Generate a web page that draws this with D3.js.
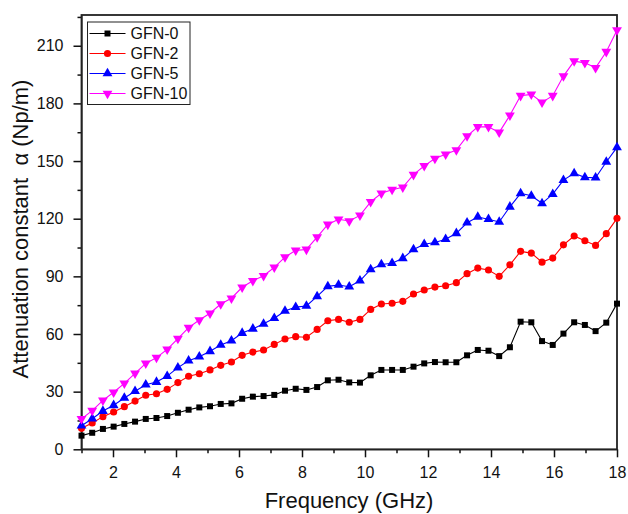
<!DOCTYPE html>
<html>
<head>
<meta charset="utf-8">
<script src="https://cdn.jsdelivr.net/npm/d3@7"></script>
<style>
  body { margin: 0; background: #fff; }
  svg { font-family: Arial, "Liberation Sans", sans-serif; }
</style>
</head>
<body>
<svg id="chart"></svg>
<script>
// frequency points, 1 to 18 GHz (51 samples)
const freq = d3.range(51).map(i => 1 + i * 17 / 50);

const gfn0 = [7.1, 8.6, 10.6, 11.8, 13.2, 14.4, 15.8, 16.3, 17.3, 19.0,
  20.6, 21.8, 22.4, 23.6, 23.9, 26.3, 27.4, 27.7, 28.3, 30.5,
  31.5, 30.9, 32.4, 35.9, 36.2, 34.8, 34.7, 38.5, 41.3, 41.3,
  41.3, 43.0, 44.7, 45.4, 45.3, 45.3, 48.9, 51.7, 51.3, 48.5,
  53.1, 66.4, 66.1, 56.3, 54.3, 60.2, 66.1, 64.7, 61.5, 65.9, 75.8];

const gfn2 = [10.9, 13.7, 17.0, 19.4, 22.2, 25.1, 28.1, 28.9, 31.2, 34.7,
  38.0, 39.3, 41.3, 43.7, 45.4, 48.9, 50.6, 51.7, 54.6, 57.4,
  58.6, 58.3, 62.4, 66.9, 67.6, 66.1, 67.6, 72.8, 75.6, 76.0,
  77.0, 80.8, 82.9, 84.4, 85.1, 86.7, 91.4, 94.3, 93.3, 90.0,
  96.0, 103.0, 102.1, 97.4, 99.5, 106.4, 111.0, 108.5, 106.1, 112.2, 120.2];

const gfn5 = [12.3, 15.9, 19.9, 22.9, 26.7, 30.2, 33.6, 35.0, 38.1, 42.5,
  46.1, 48.2, 51.0, 54.3, 56.5, 60.5, 62.7, 65.3, 68.2, 72.0,
  74.0, 74.6, 79.6, 84.8, 85.5, 84.6, 87.7, 93.6, 96.2, 96.8,
  99.4, 104.0, 106.7, 107.6, 109.3, 112.4, 117.9, 120.9, 119.7, 118.3,
  126.2, 133.2, 131.9, 128.0, 132.8, 140.1, 143.6, 141.5, 141.3, 149.5, 157.1];

const gfn10 = [15.8, 20.1, 25.5, 29.7, 34.3, 39.5, 44.7, 47.7, 52.0, 57.6,
  63.3, 67.3, 70.8, 75.6, 78.6, 84.3, 87.7, 90.3, 94.7, 100.0,
  103.5, 104.0, 110.4, 117.0, 119.7, 118.8, 121.7, 128.8, 133.2, 135.1,
  136.3, 142.9, 147.5, 151.3, 153.5, 155.7, 163.0, 167.8, 167.8, 164.9,
  173.8, 184.0, 184.7, 180.5, 184.0, 194.2, 202.0, 201.1, 198.5, 206.9, 218.1];

const seriesNames = ['GFN-0', 'GFN-2', 'GFN-5', 'GFN-10'];
const seriesColors = ['#000000', '#ff0000', '#0000ff', '#ff00ff'];
const xTicks = [2, 4, 6, 8, 10, 12, 14, 16, 18];
const yTicks = [0, 30, 60, 90, 120, 150, 180, 210];

const width = 628, height = 514;
const margin = { top: 15, right: 11, bottom: 65, left: 81.5 };
const innerW = width - margin.left - margin.right;
const innerH = 449.3 - margin.top;

const svg = d3.select('#chart')
    .attr('width', width)
    .attr('height', height);

const chart = svg.append('g')
    .attr('transform', `translate(${margin.left}, ${margin.top})`);

const xScale = d3.scaleLinear().domain([1, 18]).range([0, innerW]);
const yScale = d3.scaleLinear().domain([0, 226]).range([innerH, 0]);

// minor ticks first (no labels)
chart.append('g')
    .attr('transform', `translate(0, ${innerH})`)
    .call(d3.axisBottom(xScale).tickValues(d3.range(1, 19, 2)).tickSize(4).tickFormat(''))
    .call(g => g.select('.domain').remove());

chart.append('g')
    .call(d3.axisLeft(yScale).tickValues(d3.range(15, 226, 30)).tickSize(4).tickFormat(''))
    .call(g => g.select('.domain').remove());

const xAxisGroup = chart.append('g')
    .attr('transform', `translate(0, ${innerH})`)
    .call(d3.axisBottom(xScale).tickValues(xTicks).tickSize(8).tickPadding(9).tickSizeOuter(0));
xAxisGroup.selectAll('text').style('font-size', '16px').attr('fill', '#111');

const yAxisGroup = chart.append('g')
    .call(d3.axisLeft(yScale).tickValues(yTicks).tickSize(8).tickPadding(10).tickSizeOuter(0));
yAxisGroup.selectAll('text').style('font-size', '16px').attr('fill', '#111');

chart.selectAll('.tick line').attr('stroke', '#111').attr('stroke-width', 1.5);

// frame
chart.append('rect')
    .attr('x', 0).attr('y', 0)
    .attr('width', innerW).attr('height', innerH)
    .attr('fill', 'none')
    .attr('stroke', '#222')
    .attr('stroke-width', 1.8);

const allSeries = [gfn0, gfn2, gfn5, gfn10];
const symbols = [
    d3.symbol().type(d3.symbolSquare).size(36),
    d3.symbol().type(d3.symbolCircle).size(40),
    d3.symbol().type(d3.symbolTriangle).size(42),
    d3.symbol().type(d3.symbolTriangle).size(42)
];

const line = d3.line()
    .x(d => xScale(d[0]))
    .y(d => yScale(d[1]));

allSeries.forEach((vals, k) => {
    const pts = freq.map((f, i) => [f, vals[i]]);
    chart.append('path')
        .datum(pts)
        .attr('fill', 'none')
        .attr('stroke', seriesColors[k])
        .attr('stroke-width', 1.1)
        .attr('d', line);

    chart.append('g')
        .selectAll('path')
        .data(pts)
        .join('path')
        .attr('d', symbols[k])
        .attr('transform', d => `translate(${xScale(d[0])}, ${yScale(d[1])})` + (k === 3 ? ' rotate(180)' : ''))
        .attr('fill', seriesColors[k]);
});

// legend
const legend = svg.append('g').attr('transform', 'translate(87.5, 22)');
legend.append('rect')
    .attr('width', 102.5).attr('height', 82.5)
    .attr('fill', '#fff')
    .attr('stroke', '#222')
    .attr('stroke-width', 1);

seriesNames.forEach((name, k) => {
    const yy = 11.5 + k * 20;
    legend.append('line')
        .attr('x1', 2).attr('x2', 38)
        .attr('y1', yy).attr('y2', yy)
        .attr('stroke', seriesColors[k]).attr('stroke-width', 1.1);
    legend.append('path')
        .attr('d', symbols[k])
        .attr('transform', `translate(20, ${yy})` + (k === 3 ? ' rotate(180)' : ''))
        .attr('fill', seriesColors[k]);
    legend.append('text')
        .attr('x', 43).attr('y', yy + 5.8)
        .style('font-size', '16px')
        .attr('fill', '#111')
        .text(name);
});

// axis titles
svg.append('text')
    .attr('x', 349).attr('y', 508)
    .attr('text-anchor', 'middle')
    .style('font-size', '22px')
    .attr('fill', '#111')
    .text('Frequency (GHz)');

svg.append('text')
    .attr('transform', 'translate(28, 229) rotate(-90)')
    .attr('text-anchor', 'middle')
    .style('font-size', '22px')
    .attr('fill', '#111')
    .attr('xml:space', 'preserve')
    .style('white-space', 'pre')
    .text('Attenuation constant  \u03b1 (Np/m)');
</script>
</body>
</html>
